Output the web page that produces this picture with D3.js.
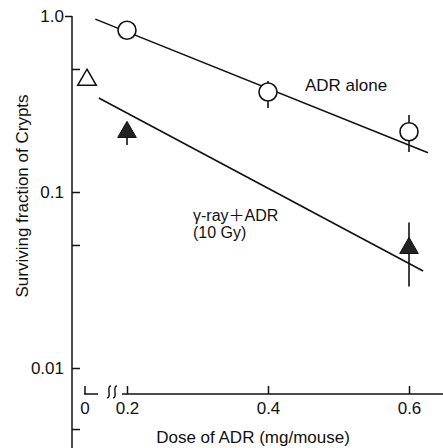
<!DOCTYPE html>
<html>
<head>
<meta charset="utf-8">
<script src="https://cdn.jsdelivr.net/npm/d3@7"></script>
<style>
  body { margin: 0; background: #fff; }
  text { font-family: "Liberation Sans", Arial, sans-serif; font-size: 17px; fill: #111; }
</style>
</head>
<body>
<script>
const width = 443,
  height = 448;

// ---- data ----
const doseTicks = [0.2, 0.4, 0.6];
const yMajor = [1, 0.1, 0.01];
const yMajorLabels = ["1.0", "0.1", "0.01"];
const yMinor = [0.5, 0.05, 0.0045];

// ADR alone (open circles)
const adrDose = [0.2, 0.4, 0.6];
const adrSurv = [0.83, 0.37, 0.22];
const adrLo = [0.83, 0.30, 0.169];
const adrHi = [0.83, 0.427, 0.274];
const adrFit = [[0.155, 0.96], [0.627, 0.167]];

// gamma-ray + ADR (filled triangles), and gamma-ray alone at dose 0 (open triangle)
const gDose = [0.2, 0.6];
const gSurv = [0.219, 0.048];
const gLo = [0.185, 0.029];
const gHi = [0.219, 0.067];
const gFit = [[0.16, 0.342], [0.62, 0.0356]];
const zeroSurv = 0.433;

// ---- scales ----
const x = d3.scaleLinear().domain([0.2, 0.6]).range([127, 409]);
const xLow = d3.scaleLinear().domain([0, 0.2]).range([85, 127]); // left of the break
const y = d3.scaleLog().domain([1, 0.01]).range([16, 368]);

const axisX = 72,
  axisY = 394;

const svg = d3
  .select("body")
  .append("svg")
  .attr("width", width)
  .attr("height", height);

svg.append("rect").attr("width", width).attr("height", height).attr("fill", "#fff");

// y axis
const yAxis = d3
  .axisLeft(y)
  .tickValues(yMajor.concat(yMinor))
  .tickSizeInner(-8)
  .tickSizeOuter(0)
  .tickPadding(8)
  .tickFormat(d => {
    const i = yMajor.indexOf(d);
    return i >= 0 ? yMajorLabels[i] : "";
  });

const yG = svg
  .append("g")
  .attr("transform", `translate(${axisX},0)`)
  .call(yAxis);
yG.select(".domain").remove();
yG.selectAll("line").attr("stroke", "#111").attr("stroke-width", 1.5);
yG.selectAll("text").attr("font-size", null).attr("font-family", null).attr("fill", "#111");
// top tick points outward
yG.selectAll(".tick").filter(d => d === 1).select("line").attr("x2", -7);
yG.append("line")
  .attr("y1", y(1))
  .attr("y2", height)
  .attr("stroke", "#111")
  .attr("stroke-width", 1.5);

// x axis
const xAxis = d3
  .axisBottom(x)
  .tickValues(doseTicks)
  .tickSizeInner(-8)
  .tickSizeOuter(0)
  .tickPadding(8)
  .tickFormat(d3.format(".1f"));

const xG = svg
  .append("g")
  .attr("transform", `translate(0,${axisY})`)
  .call(xAxis);
xG.select(".domain").remove();
xG.selectAll("line").attr("stroke", "#111").attr("stroke-width", 1.5);
xG.selectAll("text").attr("font-size", null).attr("font-family", null).attr("fill", "#111");

// main segment of the x axis
xG.append("line")
  .attr("x1", 122)
  .attr("x2", width)
  .attr("stroke", "#111")
  .attr("stroke-width", 1.5);

// short segment for dose 0
xG.append("line")
  .attr("x1", xLow(0) - 1)
  .attr("x2", 98)
  .attr("stroke", "#111")
  .attr("stroke-width", 1.5);
xG.append("line")
  .attr("x1", xLow(0))
  .attr("x2", xLow(0))
  .attr("y2", -8)
  .attr("stroke", "#111")
  .attr("stroke-width", 1.5);
xG.append("text")
  .attr("x", xLow(0))
  .attr("y", 8)
  .attr("dy", "0.71em")
  .attr("text-anchor", "middle")
  .text("0");

// break marks
[107, 113].forEach(bx => {
  const p = d3.path();
  p.moveTo(bx + 4, -8);
  p.bezierCurveTo(bx - 1, -8, bx + 5, 4, bx, 4);
  xG.append("path")
    .attr("d", p.toString())
    .attr("fill", "none")
    .attr("stroke", "#111")
    .attr("stroke-width", 1.4);
});

// axis titles
svg
  .append("text")
  .attr("x", 253)
  .attr("y", 443)
  .attr("text-anchor", "middle")
  .text("Dose of ADR (mg/mouse)");

svg
  .append("text")
  .attr("transform", "translate(28,196) rotate(-90)")
  .attr("text-anchor", "middle")
  .text("Surviving fraction of Crypts");

// regression lines
const line = d3
  .line()
  .x(d => x(d[0]))
  .y(d => y(d[1]));

svg
  .append("path")
  .attr("d", line(adrFit))
  .attr("fill", "none")
  .attr("stroke", "#111")
  .attr("stroke-width", 1.6);

svg
  .append("path")
  .attr("d", line(gFit))
  .attr("fill", "none")
  .attr("stroke", "#111")
  .attr("stroke-width", 1.6);

// error bars
const bars = svg.append("g").attr("stroke", "#111").attr("stroke-width", 1.6);
adrDose.forEach((d, i) => {
  if (adrLo[i] === adrHi[i]) return;
  bars.append("line")
    .attr("x1", x(d))
    .attr("x2", x(d))
    .attr("y1", y(adrHi[i]))
    .attr("y2", y(adrLo[i]));
});
gDose.forEach((d, i) => {
  bars.append("line")
    .attr("x1", x(d))
    .attr("x2", x(d))
    .attr("y1", y(gHi[i]))
    .attr("y2", y(gLo[i]));
});

// ADR alone: open circles
svg
  .selectAll("circle.adr")
  .data(adrDose)
  .enter()
  .append("circle")
  .attr("class", "adr")
  .attr("cx", d => x(d))
  .attr("cy", (d, i) => y(adrSurv[i]))
  .attr("r", 9)
  .attr("fill", "#fff")
  .attr("stroke", "#111")
  .attr("stroke-width", 1.6);

const tri = d3.symbol().type(d3.symbolTriangle).size(150);

// gamma + ADR: filled triangles
svg
  .selectAll("path.gam")
  .data(gDose)
  .enter()
  .append("path")
  .attr("class", "gam")
  .attr("d", tri)
  .attr("transform", (d, i) => `translate(${x(d)},${y(gSurv[i])})`)
  .attr("fill", "#222")
  .attr("stroke", "#111")
  .attr("stroke-width", 1);

// gamma alone at dose 0: open triangle
svg
  .append("path")
  .attr("d", tri)
  .attr("transform", `translate(${xLow(0) + 2},${y(zeroSurv)})`)
  .attr("fill", "#fff")
  .attr("stroke", "#111")
  .attr("stroke-width", 1.5);

// labels for series
svg
  .append("text")
  .attr("x", 305)
  .attr("y", 91)
  .text("ADR alone");

const gLabel = svg.append("text").attr("x", 193).attr("y", 221).attr("font-size", "16px").style("font-size", "16px");
gLabel.append("tspan").text("γ-ray");
gLabel.append("tspan").style("font-family", "'Noto Sans CJK JP'").text("＋");
gLabel.append("tspan").text("ADR");
gLabel
  .append("tspan")
  .attr("x", 193)
  .attr("dy", 17)
  .text("(10 Gy)");
</script>
</body>
</html>
